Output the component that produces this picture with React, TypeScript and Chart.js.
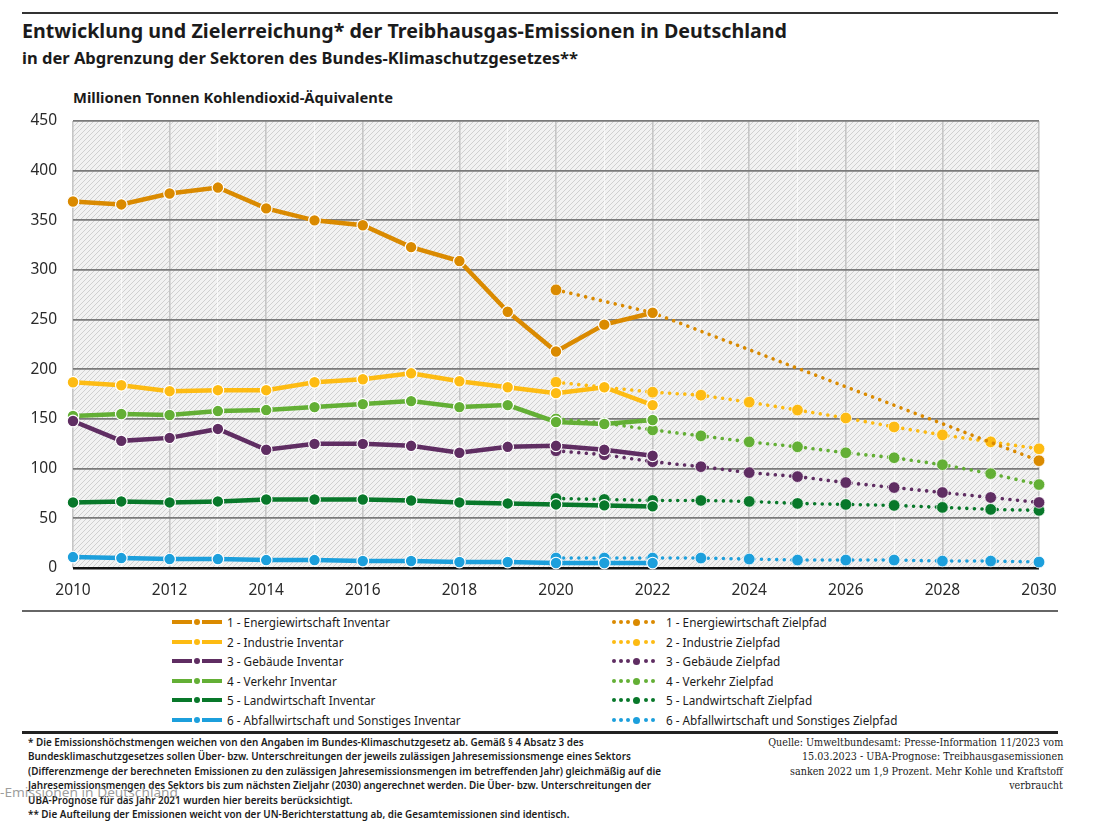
import React, { useEffect, useRef } from 'react';
import { Chart, registerables } from 'chart.js';

Chart.register(...registerables);

// ---------- DATA ----------
const years = ['2010','2011','2012','2013','2014','2015','2016','2017','2018','2019','2020','2021','2022','2023','2024','2025','2026','2027','2028','2029','2030'];
const yTicks = [0, 50, 100, 150, 200, 250, 300, 350, 400, 450];

const energieInventar = [369, 366, 377, 383, 362, 350, 345, 323, 309, 258, 218, 245, 257, null, null, null, null, null, null, null, null];
const energieZiel = [null, null, null, null, null, null, null, null, null, null, 280, null, 257, null, null, null, null, null, null, null, 108];
const industrieInventar = [187, 184, 178, 179, 179, 187, 190, 196, 188, 182, 176, 182, 164, null, null, null, null, null, null, null, null];
const industrieZiel = [null, null, null, null, null, null, null, null, null, null, 187, 182, 177, 174, 167, 159, 151, 142, 134, 127, 120];
const gebaeudeInventar = [148, 128, 131, 140, 119, 125, 125, 123, 116, 122, 123, 119, 113, null, null, null, null, null, null, null, null];
const gebaeudeZiel = [null, null, null, null, null, null, null, null, null, null, 118, 114, 107, 102, 96, 92, 86, 81, 76, 71, 66];
const verkehrInventar = [153, 155, 154, 158, 159, 162, 165, 168, 162, 164, 147, 145, 149, null, null, null, null, null, null, null, null];
const verkehrZiel = [null, null, null, null, null, null, null, null, null, null, 150, 146, 139, 133, 127, 122, 116, 111, 104, 95, 84];
const landwirtschaftInventar = [66, 67, 66, 67, 69, 69, 69, 68, 66, 65, 64, 63, 62, null, null, null, null, null, null, null, null];
const landwirtschaftZiel = [null, null, null, null, null, null, null, null, null, null, 70, 69, 68, 68, 67, 65, 64, 63, 61, 59, 58];
const abfallInventar = [11, 10, 9, 9, 8, 8, 7, 7, 6, 6, 5, 5, 5, null, null, null, null, null, null, null, null];
const abfallZiel = [null, null, null, null, null, null, null, null, null, null, 10, 10, 10, 10, 9, 8, 8, 8, 7, 7, 6];

const inventarLabels = [
  '1 - Energiewirtschaft Inventar',
  '2 - Industrie Inventar',
  '3 - Gebäude Inventar',
  '4 - Verkehr Inventar',
  '5 - Landwirtschaft Inventar',
  '6 - Abfallwirtschaft und Sonstiges Inventar',
];
const zielLabels = [
  '1 - Energiewirtschaft Zielpfad',
  '2 - Industrie Zielpfad',
  '3 - Gebäude Zielpfad',
  '4 - Verkehr Zielpfad',
  '5 - Landwirtschaft Zielpfad',
  '6 - Abfallwirtschaft und Sonstiges Zielpfad',
];
const sectorColors = ['#DA8A00', '#FDBB13', '#5F2D62', '#63AF35', '#08782A', '#1C9FDC'];
const inventarSeries = [energieInventar, industrieInventar, gebaeudeInventar, verkehrInventar, landwirtschaftInventar, abfallInventar];
const zielSeries = [energieZiel, industrieZiel, gebaeudeZiel, verkehrZiel, landwirtschaftZiel, abfallZiel];

const titleText = 'Entwicklung und Zielerreichung* der Treibhausgas-Emissionen in Deutschland';
const subtitleText = 'in der Abgrenzung der Sektoren des Bundes-Klimaschutzgesetzes**';
const unitText = 'Millionen Tonnen Kohlendioxid-Äquivalente';
const footnoteLines = [
  '* Die Emissionshöchstmengen weichen von den Angaben im Bundes-Klimaschutzgesetz ab. Gemäß § 4 Absatz 3 des',
  'Bundesklimaschutzgesetzes sollen Über- bzw. Unterschreitungen der jeweils zulässigen Jahresemissionsmenge eines Sektors',
  '(Differenzmenge der berechneten Emissionen zu den zulässigen Jahresemissionsmengen im betreffenden Jahr) gleichmäßig auf die',
  'Jahresemissionsmengen des Sektors bis zum nächsten Zieljahr (2030) angerechnet werden. Die Über- bzw. Unterschreitungen der',
  'UBA-Prognose für das Jahr 2021 wurden hier bereits berücksichtigt.',
  '** Die Aufteilung der Emissionen weicht von der UN-Berichterstattung ab, die Gesamtemissionen sind identisch.',
];
const sourceLines = [
  'Quelle: Umweltbundesamt: Presse-Information 11/2023 vom',
  '15.03.2023 - UBA-Prognose: Treibhausgasemissionen',
  'sanken 2022 um 1,9 Prozent. Mehr Kohle und Kraftstoff',
  'verbraucht',
];
const watermarkText = '-Emissionen in Deutschland';

// ---------- HELPERS ----------
const SANS = '"Noto Sans", "Open Sans", "DejaVu Sans", sans-serif';
const SERIF = '"DejaVu Serif", "Liberation Serif", serif';
const W = 1115;

const measureCanvas = typeof document !== 'undefined' ? document.createElement('canvas') : null;
function textWidth(text: string, size: number, weight: number, family: string) {
  const ctx = measureCanvas!.getContext('2d')!;
  ctx.font = `${weight} ${size}px ${family}`;
  return ctx.measureText(text).width;
}
function fit(text: string, size: number, weight: number, family: string, target: number) {
  return target / textWidth(text, size, weight, family);
}

type TxtProps = { text: string; left?: number; right?: number; cy: number; size: number; weight?: number; family?: string; color?: string; scale: number };
function Txt({ text, left, right, cy, size, weight = 400, family = SANS, color = '#1b1b1b', scale }: TxtProps) {
  const lh = size * 1.3;
  const style: React.CSSProperties = {
    position: 'absolute', top: cy - lh / 2, fontSize: size, lineHeight: lh + 'px', fontWeight: weight,
    fontFamily: family, color, whiteSpace: 'nowrap', transform: `scaleX(${scale})`,
    transformOrigin: right != null ? 'right center' : 'left center',
  };
  if (right != null) style.right = W - right; else style.left = left;
  return <div style={style}>{text}</div>;
}

const hatchPlugin = {
  id: 'hatch',
  beforeDraw(chart: any) {
    const { ctx, chartArea: a } = chart;
    const t = document.createElement('canvas');
    t.width = 5; t.height = 5;
    const p = t.getContext('2d')!;
    p.fillStyle = '#f2f2f2';
    p.fillRect(0, 0, 5, 5);
    p.strokeStyle = '#d0d0d0';
    p.lineWidth = 1;
    p.beginPath();
    p.moveTo(0, 5); p.lineTo(5, 0);
    p.moveTo(-1, 1); p.lineTo(1, -1);
    p.moveTo(4, 6); p.lineTo(6, 4);
    p.stroke();
    ctx.save();
    ctx.fillStyle = ctx.createPattern(t, 'repeat');
    ctx.fillRect(a.left, a.top, a.right - a.left, a.bottom - a.top);
    ctx.restore();
  },
};

function ChartCanvas() {
  const ref = useRef<HTMLCanvasElement>(null);
  useEffect(() => {
    const datasets: any[] = [];
    inventarSeries.forEach((d, i) => {
      datasets.push({
        label: inventarLabels[i], data: d, borderColor: sectorColors[i], backgroundColor: sectorColors[i],
        pointBackgroundColor: sectorColors[i], pointBorderColor: '#ffffff', pointBorderWidth: 1.2,
        borderWidth: 4.5, pointRadius: 5.8, tension: 0, spanGaps: false, clip: false,
      });
    });
    zielSeries.forEach((d, i) => {
      datasets.push({
        label: zielLabels[i], data: d, borderColor: sectorColors[i], backgroundColor: sectorColors[i],
        pointBackgroundColor: sectorColors[i], pointBorderColor: 'rgba(255,255,255,0.7)', pointBorderWidth: 1,
        borderWidth: 3.6, borderDash: [0.01, 7.6], borderCapStyle: 'round', pointRadius: 5.8,
        tension: 0, spanGaps: true, clip: false,
      });
    });
    const chart = new Chart(ref.current!, {
      type: 'line',
      data: { labels: years, datasets },
      options: {
        animation: false,
        responsive: false,
        devicePixelRatio: window.devicePixelRatio || 1,
        layout: { padding: { left: 0, right: 76, top: 121, bottom: 2 } },
        plugins: { legend: { display: false }, tooltip: { enabled: false }, title: { display: false } },
        scales: {
          x: {
            type: 'category', offset: false,
            grid: {
              drawTicks: false,
              color: (c: any) => (c.index % 2 === 0 ? '#c6c6c6' : 'rgba(255,255,255,0.65)'),
              lineWidth: (c: any) => (c.index % 2 === 0 ? 1.6 : 1),
            },
            border: { display: false },
            ticks: {
              autoSkip: false, maxRotation: 0, padding: 13, color: '#2a2a2a',
              font: { family: SANS, size: 15.5 },
              callback: (_v: any, i: number) => (i % 2 === 0 ? years[i] : ''),
            },
            afterFit: (s: any) => { s.height = 40; },
          },
          y: {
            min: 0, max: 450,
            afterBuildTicks: (s: any) => { s.ticks = yTicks.map((v) => ({ value: v })); },
            grid: {
              drawTicks: false,
              color: (c: any) => (c.tick && c.tick.value === 0 ? '#111111' : '#7a7a7a'),
              lineWidth: (c: any) => (c.tick && c.tick.value === 0 ? 2.5 : 1.8),
            },
            border: { display: false },
            ticks: { padding: 16, color: '#2a2a2a', font: { family: SANS, size: 15.5 } },
            afterFit: (s: any) => { s.width = 73; },
          },
        },
      } as any,
      plugins: [hatchPlugin],
    });
    return () => chart.destroy();
  }, []);
  return <canvas ref={ref} width={W} height={610} style={{ position: 'absolute', left: 0, top: 0 }} />;
}

function InventarSymbol({ color, cy }: { color: string; cy: number }) {
  return (
    <div style={{ position: 'absolute', left: 172, top: cy - 4, width: 50, height: 8 }}>
      <div style={{ position: 'absolute', left: 0, top: 2, width: 20, height: 4, background: color }} />
      <div style={{ position: 'absolute', left: 22, top: 1, width: 6, height: 6, borderRadius: 3, background: color }} />
      <div style={{ position: 'absolute', left: 30, top: 2, width: 20, height: 4, background: color }} />
    </div>
  );
}
function ZielSymbol({ color, cy }: { color: string; cy: number }) {
  const small = [0, 7, 14, 32, 39];
  return (
    <div style={{ position: 'absolute', left: 612, top: cy - 4, width: 44, height: 8 }}>
      {small.map((x) => (
        <div key={x} style={{ position: 'absolute', left: x, top: 2.25, width: 3.5, height: 3.5, borderRadius: 2, background: color }} />
      ))}
      <div style={{ position: 'absolute', left: 21, top: 0.5, width: 7, height: 7, borderRadius: 3.5, background: color }} />
    </div>
  );
}

export default function App() {
  const titleScale = fit(titleText, 19, 700, SANS, 765);
  const subScale = fit(subtitleText, 15.5, 700, SANS, 556);
  const unitScale = fit(unitText, 14, 700, SANS, 320);
  const legScale = fit(inventarLabels[0], 13, 400, SANS, 163);
  const footScale = fit(footnoteLines[2], 11, 600, SANS, 633);
  const srcScale = fit(sourceLines[0], 10.5, 400, SERIF, 295);
  const wmScale = fit(watermarkText, 12, 400, SANS, 178);
  const rowY = [622, 642, 661, 681, 700, 720];
  const footY = [742, 756, 771, 785, 800, 814];
  const srcY = [743, 757, 772, 786];
  return (
    <div style={{ position: 'absolute', left: 0, top: 0, width: W, height: 828, background: '#fff', overflow: 'hidden' }}>
      <div style={{ position: 'absolute', left: 22, top: 12, width: 1036, height: 2, background: '#333' }} />
      <Txt text={titleText} left={22} cy={31} size={19} weight={700} scale={titleScale} />
      <Txt text={subtitleText} left={22} cy={58} size={15.5} weight={700} scale={subScale} />
      <Txt text={unitText} left={73} cy={98} size={14} weight={700} scale={unitScale} />
      <ChartCanvas />
      <div style={{ position: 'absolute', left: 22, top: 610, width: 1036, height: 1.5, background: '#666' }} />
      {inventarLabels.map((l, i) => (
        <React.Fragment key={l}>
          <InventarSymbol color={sectorColors[i]} cy={rowY[i]} />
          <Txt text={l} left={227} cy={rowY[i]} size={13} scale={legScale} />
        </React.Fragment>
      ))}
      {zielLabels.map((l, i) => (
        <React.Fragment key={l}>
          <ZielSymbol color={sectorColors[i]} cy={rowY[i]} />
          <Txt text={l} left={666} cy={rowY[i]} size={13} scale={legScale} />
        </React.Fragment>
      ))}
      <div style={{ position: 'absolute', left: 22, top: 731, width: 1036, height: 2.5, background: '#222' }} />
      {footnoteLines.map((l, i) => (
        <Txt key={i} text={l} left={28} cy={footY[i]} size={11} weight={600} scale={footScale} />
      ))}
      {sourceLines.map((l, i) => (
        <Txt key={i} text={l} right={1063} cy={srcY[i]} size={10.5} family={SERIF} scale={srcScale} />
      ))}
      <Txt text={watermarkText} left={0} cy={793} size={12} color="rgba(140,140,140,0.85)" scale={wmScale} />
    </div>
  );
}
